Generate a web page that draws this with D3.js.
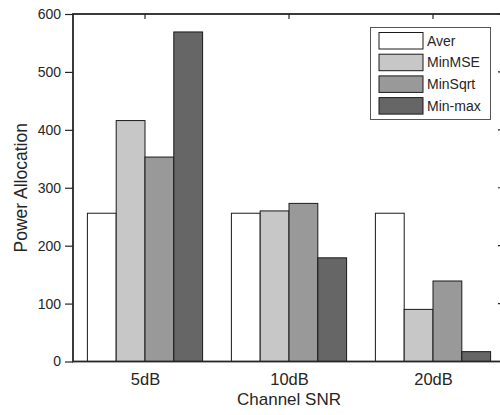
<!DOCTYPE html>
<html>
<head>
<meta charset="utf-8">
<script src="https://cdn.jsdelivr.net/npm/d3@7"></script>
<style>
  html, body { margin: 0; padding: 0; background: #fff; }
  svg { display: block; font-family: "Liberation Sans", Arial, Helvetica, sans-serif; }
</style>
</head>
<body>
<svg id="chart" width="500" height="415"></svg>
<script>
// Channel SNR groups and allocation schemes
const categories = ["5dB", "10dB", "20dB"];
const seriesNames = ["Aver", "MinMSE", "MinSqrt", "Min-max"];
const aver    = [256, 256, 256];
const minMSE  = [416, 260, 90];
const minSqrt = [353, 273, 139];
const minMax  = [569, 179, 17];
const yTicks  = [0, 100, 200, 300, 400, 500, 600];

const seriesValues = [aver, minMSE, minSqrt, minMax];
const fills = ["#ffffff", "#c6c7c6", "#999999", "#666666"];
const ink = "#262626";

const svg = d3.select("#chart");

// plot box; the right edge sits just past the window
const plotLeft = 73, plotRight = 505, plotTop = 14, plotBottom = 361.5;

const x = d3.scaleLinear().domain([0.5, 3.5]).range([plotLeft, plotRight]);
const y = d3.scaleLinear().domain([0, 600]).range([plotBottom, plotTop]);

const groupWidth = 0.8, barW = groupWidth / seriesNames.length;

// bars
seriesValues.forEach((vals, s) => {
  svg.append("g").selectAll("rect")
    .data(vals)
    .join("rect")
    .attr("x", (d, i) => x(i + 1 - groupWidth / 2 + s * barW))
    .attr("width", x(barW) - x(0))
    .attr("y", d => y(d))
    .attr("height", d => y(0) - y(d))
    .attr("fill", fills[s])
    .attr("stroke", "#1a1a1a")
    .attr("stroke-width", 1);
});

// left axis with outward ticks
const yAxis = d3.axisLeft(y).tickValues(yTicks).tickSize(8).tickPadding(4).tickFormat(d3.format("d"));
const gy = svg.append("g").attr("transform", `translate(${plotLeft},0)`).call(yAxis);
gy.select(".domain").remove();
gy.selectAll("line").attr("stroke", ink).attr("stroke-width", 1.2);
gy.selectAll("text").attr("fill", ink).style("font-size", "14px");

// category labels below the plot
const xAxis = d3.axisBottom(x).tickValues([1, 2, 3]).tickSize(0).tickPadding(12)
  .tickFormat(d => categories[d - 1]);
const gx = svg.append("g").attr("transform", `translate(0,${plotBottom})`).call(xAxis);
gx.select(".domain").remove();
gx.selectAll("text").attr("fill", ink).style("font-size", "16.5px");

// top ticks (inward)
svg.append("g").selectAll("line")
  .data([1, 2, 3])
  .join("line")
  .attr("x1", d => x(d)).attr("x2", d => x(d))
  .attr("y1", plotTop).attr("y2", plotTop + 5)
  .attr("stroke", ink).attr("stroke-width", 1.2);

// right ticks (inward)
svg.append("g").selectAll("line")
  .data(yTicks)
  .join("line")
  .attr("x1", plotRight - 7).attr("x2", plotRight)
  .attr("y1", d => y(d)).attr("y2", d => y(d))
  .attr("stroke", ink).attr("stroke-width", 1.2);

// axes box
svg.append("rect")
  .attr("x", plotLeft).attr("y", plotTop)
  .attr("width", plotRight - plotLeft).attr("height", plotBottom - plotTop)
  .attr("fill", "none").attr("stroke", ink).attr("stroke-width", 1.8);

// axis titles
svg.append("text")
  .attr("x", (plotLeft + plotRight) / 2)
  .attr("y", 405)
  .attr("text-anchor", "middle")
  .attr("fill", ink)
  .style("font-size", "17px")
  .text("Channel SNR");

svg.append("text")
  .attr("transform", `translate(27,${(plotTop + plotBottom) / 2}) rotate(-90)`)
  .attr("text-anchor", "middle")
  .attr("fill", ink)
  .style("font-size", "17.5px")
  .text("Power Allocation");

// legend
const lg = svg.append("g");
lg.append("rect")
  .attr("x", 370.5).attr("y", 27.5).attr("width", 120).attr("height", 92)
  .attr("fill", "#fff").attr("stroke", "#555").attr("stroke-width", 1);
seriesNames.forEach((name, i) => {
  const ry = 32.5 + i * 21.7;
  lg.append("rect")
    .attr("x", 379).attr("y", ry).attr("width", 44).attr("height", 16.5)
    .attr("fill", fills[i]).attr("stroke", "#1a1a1a").attr("stroke-width", 1);
  lg.append("text")
    .attr("x", 427).attr("y", ry + 8.25)
    .attr("dy", "0.36em")
    .attr("fill", ink)
    .style("font-size", "14px")
    .text(name);
});
</script>
</body>
</html>
